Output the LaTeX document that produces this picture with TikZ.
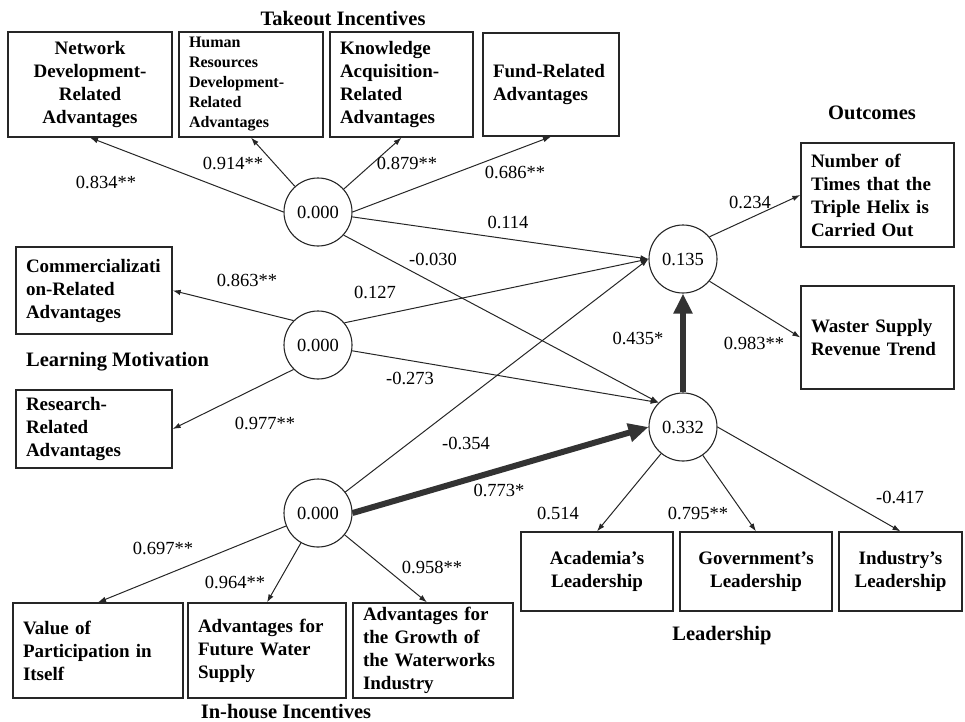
\documentclass[tikz,border=0pt]{standalone}
\usepackage{fontspec}
\setmainfont{Liberation Serif}
\usepackage{tikz}
\usetikzlibrary{arrows.meta}

\begin{document}
\begin{tikzpicture}[
    x=1pt, y=-1pt,
    box/.style = {
        rectangle,
        draw=black!85,
        line width=1.3pt,
        inner xsep=10pt,
        inner ysep=0pt,
        align=left,
        font=\fontsize{19}{23}\selectfont\bfseries
    },
    cbox/.style = {box, align=center},
    latent/.style = {
        circle,
        draw=black!85,
        line width=1.1pt,
        minimum size=68pt,
        inner sep=0pt,
        font=\fontsize{18.5}{22}\selectfont
    },
    coef/.style = {inner sep=1pt, font=\fontsize{18.5}{22}\selectfont},
    title/.style = {inner sep=1pt, font=\fontsize{20.5}{24}\selectfont\bfseries},
    arrow/.style = {-{Latex[length=8pt,width=5.5pt]}, line width=1pt, black!85},
    bigarrow/.style = {-{Triangle[length=20pt,width=18pt]}, line width=6pt, black!80}
]
\useasboundingbox (0,0) rectangle (965,721);

%% Latent variables
\node[latent] (take)  at (318,212) {0.000};
\node[latent] (learn) at (318,345) {0.000};
\node[latent] (inh)   at (318,513) {0.000};
\node[latent] (outc)  at (683,259) {0.135};
\node[latent] (lead)  at (683,427) {0.332};

%% Takeout incentives
\node[cbox, text width=144pt, minimum height=105pt] (net) at (90,84.5)
    {Network\\Development-\\Related\\Advantages};
\node[box, text width=124pt, minimum height=105pt,
      font=\fontsize{16}{20}\selectfont\bfseries] (hr) at (251,84.5)
    {Human\\Resources\\Development-\\Related\\Advantages};
\node[box, text width=123pt, minimum height=105pt] (know) at (401.5,84.5)
    {Knowledge\\Acquisition-\\Related\\Advantages};
\node[box, text width=116pt, minimum height=103pt] (fund) at (551,84.5)
    {Fund-Related\\Advantages};
\node[title] (ttake) at (343,19) {Takeout Incentives};

%% Learning motivation
\node[box, text width=136pt, minimum height=87pt] (comm) at (94,290.5)
    {Commercializati\\on-Related\\Advantages};
\node[box, text width=136pt, minimum height=78pt] (res) at (94,429)
    {Research-\\Related\\Advantages};
\node[title, anchor=west] (tlearn) at (25,362) {Learning Motivation};

%% In-house incentives
\node[box, text width=150pt, minimum height=95pt] (val) at (98,650.5)
    {Value of\\Participation in\\Itself};
\node[box, text width=138pt, minimum height=95pt] (fut) at (267,650.5)
    {Advantages for\\Future Water\\Supply};
\node[box, text width=140pt, minimum height=95pt] (gro) at (433,650.5)
    {Advantages for\\the Growth of\\the Waterworks\\Industry};
\node[title] (tinh) at (286,711) {In-house Incentives};

%% Leadership
\node[cbox, text width=132pt, minimum height=79pt] (aca) at (597,571.5)
    {Academia's\\Leadership};
\node[cbox, text width=132pt, minimum height=79pt] (gov) at (756,571.5)
    {Government's\\Leadership};
\node[cbox, text width=103pt, minimum height=79pt] (ind) at (900.5,571.5)
    {Industry's\\Leadership};
\node[title] (tlead) at (722,636) {Leadership};

%% Outcomes
\node[box, text width=133pt, minimum height=104pt] (num) at (877.5,195)
    {Number of\\Times that the\\Triple Helix is\\Carried Out};
\node[box, text width=133pt, minimum height=103pt] (wst) at (877.5,337.5)
    {Waster Supply\\Revenue Trend};
\node[title] (toutc) at (872,113) {Outcomes};

%% Measurement paths
\draw[arrow] (take.west) -- (net.south);
\draw[arrow] (take) -- (hr.south);
\draw[arrow] (take) -- (know.south);
\draw[arrow] (take.east) -- (fund.south);
\draw[arrow] (learn.135) -- (comm.east);
\draw[arrow] (learn.-135) -- (res.east);
\draw[arrow] (inh) -- (val.north);
\draw[arrow] (inh) -- (fut.north);
\draw[arrow] (inh) -- ([xshift=-6pt]gro.north);
\draw[arrow] (lead) -- (aca.north);
\draw[arrow] (lead) -- (gov.north);
\draw[arrow] (lead.east) -- (ind.north);
\draw[arrow] (outc.40) -- (num.west);
\draw[arrow] (outc.-40) -- (wst.west);

%% Structural paths
\draw[arrow] (take) -- (outc.west);
\draw[arrow] (take.-42) -- (lead.135);
\draw[arrow] (learn.40) -- (outc.west);
\draw[arrow] (learn) -- (lead.135);
\draw[arrow] (inh) -- (outc.west);
\draw[bigarrow] (inh.east) -- (lead.west);
\draw[bigarrow] (lead.north) -- (outc.south);

%% Path coefficients
\node[coef] (c1)  at (106,182) {0.834**};
\node[coef] (c2)  at (233,163) {0.914**};
\node[coef] (c3)  at (407,163) {0.879**};
\node[coef] (c4)  at (515,172) {0.686**};
\node[coef] (c5)  at (508,222) {0.114};
\node[coef] (c6)  at (433,259) {-0.030};
\node[coef] (c7)  at (247,280) {0.863**};
\node[coef] (c8)  at (375,292) {0.127};
\node[coef] (c9)  at (410,378) {-0.273};
\node[coef] (c10) at (265,423) {0.977**};
\node[coef] (c11) at (466,443) {-0.354};
\node[coef] (c12) at (499,490) {0.773*};
\node[coef] (c13) at (638,338) {0.435*};
\node[coef] (c14) at (754,343) {0.983**};
\node[coef] (c15) at (750,202) {0.234};
\node[coef] (c16) at (163,548) {0.697**};
\node[coef] (c17) at (235,582) {0.964**};
\node[coef] (c18) at (432,567) {0.958**};
\node[coef] (c19) at (558,513) {0.514};
\node[coef] (c20) at (698,513) {0.795**};
\node[coef] (c21) at (900,497) {-0.417};

\end{tikzpicture}
\end{document}
